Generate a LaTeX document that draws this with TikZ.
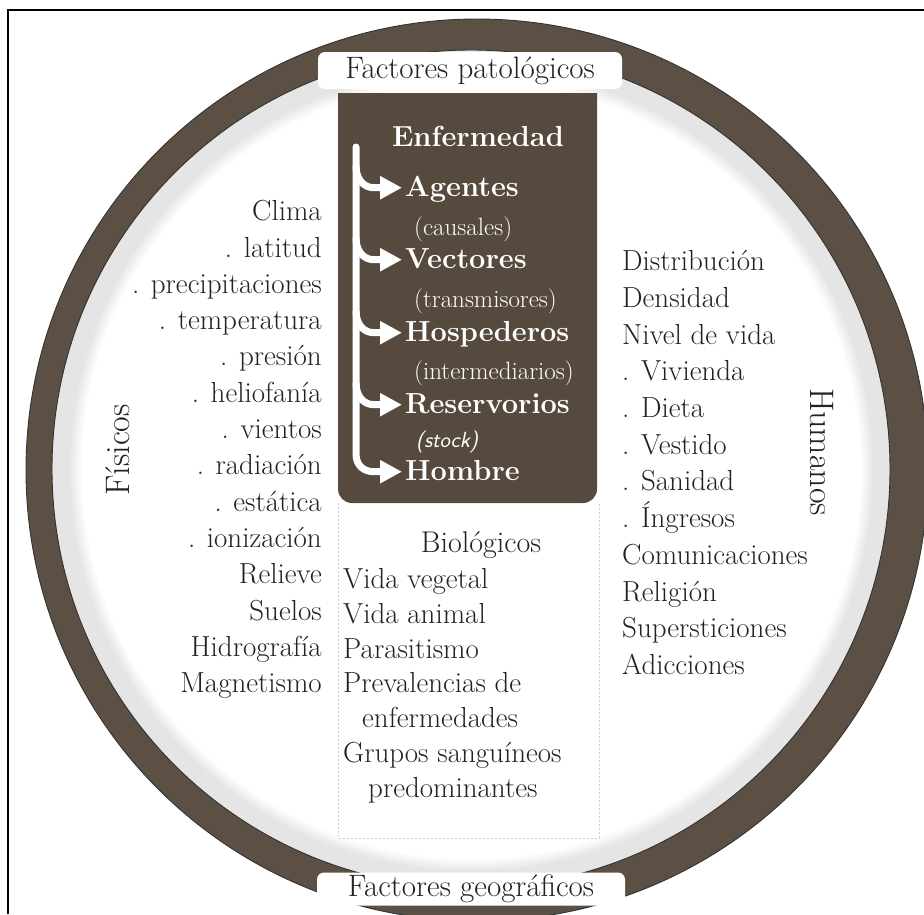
\documentclass[tikz,border=0pt]{standalone}
\usepackage{fontspec}
\usetikzlibrary{arrows.meta,calc}

\definecolor{ringbrown}{RGB}{92,80,68}
\definecolor{boxbrown}{RGB}{86,74,62}
\definecolor{halogray}{RGB}{229,229,229}
\definecolor{ink}{RGB}{34,34,34}

% soft grey band just inside the ring
\pgfdeclareradialshading{innerhalo}{\pgfpoint{0bp}{0bp}}{%
  color(0bp)=(white); color(23.2bp)=(white); color(24.0bp)=(halogray);
  color(25bp)=(halogray); color(50bp)=(halogray)}

\begin{document}
\begin{tikzpicture}[x=1pt,y=1pt,
  body/.style={font=\fontsize{29}{35}\selectfont, text=ink, inner sep=0pt},
  sidelabel/.style={font=\fontsize{34}{40}\selectfont\addfontfeature{LetterSpace=6}, text=ink, inner sep=0pt},
  labelbox/.style={fill=white, rounded corners=7pt, inner sep=0pt, text=ink,
                   font=\fontsize{31}{36}\selectfont},
  boldw/.style={font=\fontsize{29}{35}\selectfont\bfseries, text=white, inner sep=0pt},
  parenw/.style={font=\fontsize{25}{30}\selectfont, text=white, inner sep=0pt},
  stockw/.style={font=\fontsize{22}{26}\selectfont\sffamily\itshape, text=white, inner sep=0pt},
  branch/.style={draw=white, line width=7pt, -{Triangle[length=22pt,width=22pt]}}]

\useasboundingbox (0,0) rectangle (924,-914);
\fill[white] (0,0) rectangle (924,-914);

% ring with its inner grey band
\shade[shading=innerhalo] (471,-469) circle (419pt);
\fill[ringbrown, even odd rule] (477,-470) circle (451pt) (471,-469) circle (419pt);
\draw[black!80, line width=0.9pt] (477,-470) circle (451pt) (471,-469) circle (419pt);

% panel under the dark box
\fill[white] (338,-503) rectangle (599,-838);
\draw[gray!40, line width=0.6pt, dash pattern=on 2pt off 2pt]
  (338,-503) -- (338,-838) -- (599,-838) -- (599,-503);

% dark box
\fill[boxbrown] (338,-93) -- (597,-93) [rounded corners=14pt] -- (597,-503)
  -- (338,-503) [sharp corners] -- cycle;

% header and footer labels
\node[labelbox, minimum width=304pt, minimum height=37pt] (patol) at (470,-70.5) {Factores patológicos};
\node[labelbox, minimum width=308pt, minimum height=33pt] (geog) at (471,-889) {Factores geográficos};

% disease chain
\node[boldw, anchor=base] (enf) at (478,-146.5) {Enfermedad};
\node[boldw, anchor=base west] (agentes) at (405,-196.7) {Agentes};
\node[parenw, anchor=base west] (causales) at (414,-235.5) {(causales)};
\node[boldw, anchor=base west] (vectores) at (405,-268.7) {Vectores};
\node[parenw, anchor=base west] (transm) at (414,-307.5) {(transmisores)};
\node[boldw, anchor=base west] (hosp) at (405,-341.7) {Hospederos};
\node[parenw, anchor=base west] (interm) at (414,-379.5) {(intermediarios)};
\node[boldw, anchor=base west] (reserv) at (405,-413.7) {Reservorios};
\node[stockw, anchor=base west] (stock) at (416,-447.5) {(stock)};
\node[boldw, anchor=base west] (hombre) at (405,-480.7) {Hombre};

\coordinate (spinetop) at (356,-147);
\coordinate (tA) at ($(agentes.base west)+(-3,9)$);
\coordinate (tV) at ($(vectores.base west)+(-3,9)$);
\coordinate (tH) at ($(hosp.base west)+(-3,9)$);
\coordinate (tR) at ($(reserv.base west)+(-3,9)$);
\coordinate (tM) at ($(hombre.base west)+(-3,9)$);

\draw[branch, line cap=round] (spinetop) -- ($(spinetop|-tM)+(0,18)$)
  .. controls +(0,-12) and +(-10,0) .. ($(spinetop|-tM)+(18,0)$) -- (tM);
\foreach \tp in {tA,tV,tH,tR}
  \draw[branch] ($(spinetop|-\tp)+(0,22)$)
    .. controls +(0,-14) and +(-10,0) .. ($(spinetop|-\tp)+(18,0)$) -- (\tp);

% physical factors
\node[sidelabel, rotate=90] (fisicos) at (118,-450) {Físicos};
\foreach \t [count=\i from 0] in {Clima, . latitud, . precipitaciones, . temperatura,
    . presión, . heliofanía, . vientos, . radiación, . estática, . ionización,
    Relieve, Suelos, Hidrografía, Magnetismo}
  \node[body, anchor=base east] (fis\i) at (322,{-(220.7+36.3*\i)}) {\t};

% human factors
\node[sidelabel, rotate=-90] (humanos) at (822,-452) {Humanos};
\foreach \t [count=\i from 0] in {Distribución, Densidad, Nivel de vida, . Vivienda,
    . Dieta, . Vestido, . Sanidad, . Íngresos, Comunicaciones, Religión,
    Supersticiones, Adicciones}
  \node[body, anchor=base west] (hum\i) at (622,{-(270.7+36.7*\i)}) {\t};

% biological factors
\node[body, font=\fontsize{30}{36}\selectfont, anchor=base] (bio) at (481,-552) {Biológicos};
\node[body, anchor=base west] (bio1) at (343,-588.7) {Vida vegetal};
\node[body, anchor=base west] (bio2) at (343,-623.7) {Vida animal};
\node[body, anchor=base west] (bio3) at (343,-658.7) {Parasitismo};
\node[body, anchor=base west] (bio4) at (343,-692.7) {Prevalencias de};
\node[body, anchor=base west] (bio5) at (362,-727.7) {enfermedades};
\node[body, anchor=base west] (bio6) at (343,-762.7) {Grupos sanguíneos};
\node[body, anchor=base west] (bio7) at (368,-797.7) {predominantes};

% frame
\draw[line width=2.6pt, line join=miter] (8,-914) -- (8,-10) -- (924,-10);
\end{tikzpicture}
\end{document}
